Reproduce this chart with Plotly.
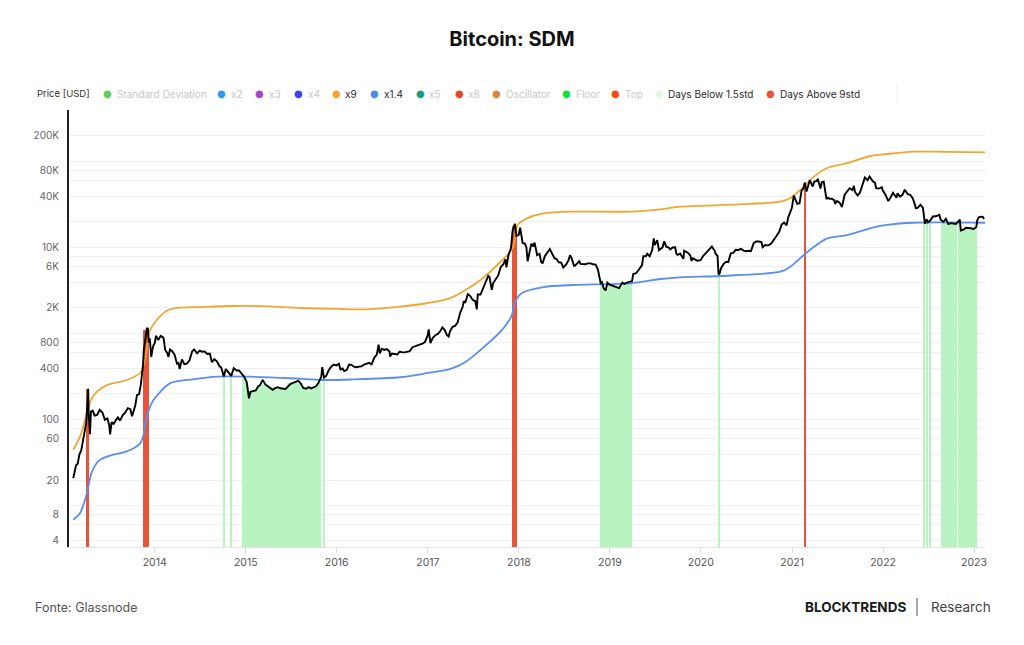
import plotly.graph_objects as go
import pandas as pd

# ---------------- data ----------------
price_dates = [
    "2013-02-08", "2013-02-12", "2013-02-19", "2013-02-26", "2013-03-05", "2013-03-12", "2013-03-19", "2013-03-26",
    "2013-04-01", "2013-04-05", "2013-04-09", "2013-04-11", "2013-04-13", "2013-04-16", "2013-04-20", "2013-04-27",
    "2013-05-05", "2013-05-15", "2013-05-25", "2013-06-05", "2013-06-15", "2013-06-25", "2013-07-02", "2013-07-06",
    "2013-07-12", "2013-07-20", "2013-07-28", "2013-08-06", "2013-08-15", "2013-08-25", "2013-09-05", "2013-09-15",
    "2013-09-25", "2013-10-02", "2013-10-08", "2013-10-15", "2013-10-22", "2013-10-30", "2013-11-06", "2013-11-11",
    "2013-11-15", "2013-11-18", "2013-11-22", "2013-11-26", "2013-11-30", "2013-12-04", "2013-12-08", "2013-12-12",
    "2013-12-18", "2013-12-22", "2013-12-27",
    "2014-01-01", "2014-01-06", "2014-01-15", "2014-01-25", "2014-02-05", "2014-02-12", "2014-02-20", "2014-02-25",
    "2014-03-03", "2014-03-12", "2014-03-22", "2014-03-31", "2014-04-06", "2014-04-11", "2014-04-20", "2014-04-30",
    "2014-05-10", "2014-05-20", "2014-05-31", "2014-06-08", "2014-06-20", "2014-06-30", "2014-07-10", "2014-07-20",
    "2014-07-31", "2014-08-10", "2014-08-18", "2014-08-28", "2014-09-08", "2014-09-18", "2014-09-25", "2014-10-05",
    "2014-10-13", "2014-10-25", "2014-11-04", "2014-11-14", "2014-11-25", "2014-12-05", "2014-12-15", "2014-12-25",
    "2015-01-05", "2015-01-14", "2015-01-20", "2015-01-31", "2015-02-10", "2015-02-20", "2015-02-28", "2015-03-10",
    "2015-03-20", "2015-03-31", "2015-04-10", "2015-04-20", "2015-04-30", "2015-05-10", "2015-05-20", "2015-05-31",
    "2015-06-10", "2015-06-20", "2015-06-30", "2015-07-10", "2015-07-20", "2015-07-31", "2015-08-10", "2015-08-20",
    "2015-08-31", "2015-09-10", "2015-09-20", "2015-09-30", "2015-10-10", "2015-10-20", "2015-10-31", "2015-11-04",
    "2015-11-11", "2015-11-20", "2015-11-30", "2015-12-10", "2015-12-20", "2015-12-31",
    "2016-01-10", "2016-01-16", "2016-01-25", "2016-01-31", "2016-02-10", "2016-02-20", "2016-02-29", "2016-03-10",
    "2016-03-20", "2016-03-31", "2016-04-10", "2016-04-20", "2016-04-30", "2016-05-10", "2016-05-20", "2016-05-31",
    "2016-06-10", "2016-06-17", "2016-06-22", "2016-06-30", "2016-07-10", "2016-07-20", "2016-07-31", "2016-08-02",
    "2016-08-10", "2016-08-20", "2016-08-31", "2016-09-10", "2016-09-20", "2016-09-30", "2016-10-10", "2016-10-20",
    "2016-10-31", "2016-11-10", "2016-11-20", "2016-11-30", "2016-12-10", "2016-12-20", "2016-12-31",
    "2017-01-04", "2017-01-11", "2017-01-20", "2017-01-31", "2017-02-10", "2017-02-20", "2017-02-28", "2017-03-10",
    "2017-03-18", "2017-03-25", "2017-03-31", "2017-04-10", "2017-04-20", "2017-04-30", "2017-05-10", "2017-05-20",
    "2017-05-25", "2017-05-31", "2017-06-10", "2017-06-20", "2017-06-30", "2017-07-10", "2017-07-16", "2017-07-20",
    "2017-07-31", "2017-08-10", "2017-08-20", "2017-08-31", "2017-09-05", "2017-09-14", "2017-09-20", "2017-09-30",
    "2017-10-10", "2017-10-20", "2017-10-31", "2017-11-08", "2017-11-12", "2017-11-20", "2017-11-30", "2017-12-07",
    "2017-12-16", "2017-12-22", "2017-12-31",
    "2018-01-06", "2018-01-16", "2018-01-25", "2018-01-31", "2018-02-05", "2018-02-10", "2018-02-20", "2018-02-28",
    "2018-03-05", "2018-03-15", "2018-03-25", "2018-03-31", "2018-04-06", "2018-04-15", "2018-04-25", "2018-04-30",
    "2018-05-05", "2018-05-15", "2018-05-25", "2018-05-31", "2018-06-10", "2018-06-20", "2018-06-28", "2018-07-10",
    "2018-07-20", "2018-07-25", "2018-07-31", "2018-08-10", "2018-08-14", "2018-08-25", "2018-08-31", "2018-09-05",
    "2018-09-15", "2018-09-25", "2018-10-05", "2018-10-15", "2018-10-25", "2018-11-05", "2018-11-14", "2018-11-20",
    "2018-11-25", "2018-11-30", "2018-12-07", "2018-12-15", "2018-12-22", "2018-12-31",
    "2019-01-10", "2019-01-20", "2019-01-31", "2019-02-07", "2019-02-20", "2019-02-28", "2019-03-10", "2019-03-20",
    "2019-03-31", "2019-04-05", "2019-04-15", "2019-04-25", "2019-05-10", "2019-05-15", "2019-05-25", "2019-05-31",
    "2019-06-10", "2019-06-20", "2019-06-26", "2019-06-30", "2019-07-10", "2019-07-17", "2019-07-25", "2019-07-31",
    "2019-08-07", "2019-08-15", "2019-08-25", "2019-08-31", "2019-09-10", "2019-09-20", "2019-09-25", "2019-09-30",
    "2019-10-10", "2019-10-23", "2019-10-26", "2019-10-31", "2019-11-10", "2019-11-20", "2019-11-25", "2019-11-30",
    "2019-12-10", "2019-12-18", "2019-12-31",
    "2020-01-10", "2020-01-20", "2020-01-31", "2020-02-10", "2020-02-14", "2020-02-25", "2020-02-29", "2020-03-08",
    "2020-03-12", "2020-03-16", "2020-03-22", "2020-03-31", "2020-04-10", "2020-04-20", "2020-04-30", "2020-05-10",
    "2020-05-20", "2020-05-31", "2020-06-10", "2020-06-20", "2020-06-30", "2020-07-10", "2020-07-20", "2020-07-31",
    "2020-08-10", "2020-08-20", "2020-08-31", "2020-09-05", "2020-09-15", "2020-09-25", "2020-09-30", "2020-10-10",
    "2020-10-21", "2020-10-31", "2020-11-10", "2020-11-20", "2020-11-30", "2020-12-10", "2020-12-17", "2020-12-27",
    "2020-12-31",
    "2021-01-08", "2021-01-15", "2021-01-22", "2021-01-31", "2021-02-08", "2021-02-15", "2021-02-21", "2021-02-28",
    "2021-03-10", "2021-03-13", "2021-03-25", "2021-03-31", "2021-04-10", "2021-04-14", "2021-04-25", "2021-04-30",
    "2021-05-08", "2021-05-12", "2021-05-19", "2021-05-25", "2021-05-31", "2021-06-10", "2021-06-20", "2021-06-22",
    "2021-06-30", "2021-07-10", "2021-07-20", "2021-07-31", "2021-08-10", "2021-08-20", "2021-08-31", "2021-09-06",
    "2021-09-10", "2021-09-21", "2021-09-30", "2021-10-10", "2021-10-20", "2021-10-31", "2021-11-08", "2021-11-20",
    "2021-11-30", "2021-12-04", "2021-12-15", "2021-12-27", "2021-12-31",
    "2022-01-10", "2022-01-22", "2022-01-31", "2022-02-10", "2022-02-24", "2022-02-28", "2022-03-10", "2022-03-20",
    "2022-03-29", "2022-04-10", "2022-04-20", "2022-04-30", "2022-05-10", "2022-05-12", "2022-05-20", "2022-05-31",
    "2022-06-10", "2022-06-14", "2022-06-18", "2022-06-25", "2022-06-30", "2022-07-10", "2022-07-20", "2022-07-31",
    "2022-08-10", "2022-08-15", "2022-08-20", "2022-08-31", "2022-09-10", "2022-09-20", "2022-09-30", "2022-10-10",
    "2022-10-20", "2022-10-31", "2022-11-05", "2022-11-09", "2022-11-20", "2022-11-30", "2022-12-10", "2022-12-20",
    "2022-12-31",
    "2023-01-10", "2023-01-14", "2023-01-20", "2023-01-31", "2023-02-05", "2023-02-10",
]
price_usd = [
    21, 24.5, 29.5, 31, 40, 44, 58, 78,
    93, 142, 230, 120, 95, 68, 125, 128,
    112, 114, 131, 122, 100, 104, 88, 68,
    94, 90, 98, 107, 98, 113, 122, 137,
    133, 110, 126, 148, 195, 198, 255, 340,
    430, 650, 780, 930, 1135, 1180, 790, 890,
    540, 640, 740,
    780, 950, 850, 950, 905, 650, 600, 540,
    660, 630, 570, 450, 460, 390, 505, 445,
    450, 490, 625, 660, 595, 640, 620, 625,
    585, 590, 470, 510, 475, 420, 405, 320,
    390, 355, 325, 400, 375, 375, 345, 320,
    275, 178, 212, 218, 220, 245, 255, 292,
    260, 245, 235, 224, 235, 240, 233, 230,
    229, 245, 263, 270, 278, 285, 265, 235,
    230, 240, 232, 237, 246, 270, 315, 410,
    310, 325, 378, 415, 440, 430,
    450, 385, 395, 370, 380, 440, 437, 415,
    410, 416, 420, 440, 450, 460, 442, 530,
    575, 750, 595, 670, 650, 665, 625, 545,
    590, 580, 575, 623, 610, 610, 618, 630,
    700, 715, 730, 745, 770, 800, 960,
    1130, 780, 895, 965, 1000, 1080, 1190, 1100,
    970, 930, 1080, 1210, 1240, 1350, 1750, 2050,
    2400, 2300, 2900, 2750, 2480, 2400, 1930, 2870,
    2870, 3420, 4100, 4740, 4600, 3250, 3900, 4340,
    4780, 6000, 6450, 7400, 5950, 8200, 9900, 16000,
    19100, 13800, 14100,
    17200, 11400, 11200, 10200, 7000, 8100, 11200, 10400,
    11500, 8250, 8500, 6900, 6600, 8000, 8900, 9250,
    9700, 8500, 7500, 7500, 6800, 6750, 5900, 6400,
    7300, 8200, 7700, 6200, 6200, 6700, 7000, 6500,
    6500, 6450, 6600, 6600, 6450, 6400, 5600, 4500,
    3900, 4000, 3400, 3200, 3950, 3740,
    3650, 3550, 3450, 3400, 3950, 3820, 3950, 4050,
    4100, 5000, 5050, 5450, 6300, 8000, 8000, 8550,
    8000, 9500, 12900, 10800, 12300, 9400, 9850, 10100,
    11900, 10300, 10100, 9600, 10100, 10170, 8500, 8300,
    8580, 7450, 9250, 9150, 8800, 8100, 7050, 7550,
    7250, 7100, 7200,
    8050, 8650, 9350, 9850, 10350, 9300, 8550, 8050,
    4900, 5000, 5800, 6420, 6870, 6850, 8650, 8750,
    9500, 9450, 9750, 9300, 9140, 9250, 9160, 11350,
    11900, 11850, 11650, 10150, 10800, 10700, 10780, 11300,
    12800, 13800, 15300, 18650, 19700, 18250, 22800, 26300,
    29000,
    40600, 36800, 32500, 33100, 46200, 48700, 57500, 45200,
    55900, 61200, 51700, 58900, 60000, 63500, 49000, 57800,
    58800, 49200, 37000, 38400, 37300, 37300, 35700, 32500,
    35000, 33800, 29800, 41500, 45600, 49300, 47100, 52700,
    45000, 40600, 43800, 54700, 65900, 61300, 67500, 59700,
    57000, 49400, 48900, 50700, 46300,
    41800, 35000, 38500, 43600, 38300, 43200, 39400, 41300,
    47400, 42200, 41400, 37700, 31000, 29000, 29200, 31800,
    29100, 22200, 19000, 21500, 19900, 20900, 23200, 23300,
    23900, 24200, 21200, 20100, 21800, 18900, 19400, 19100,
    19000, 20500, 21300, 15900, 16300, 17100, 17100, 16900,
    16550,
    17450, 20900, 22700, 23100, 23000, 21700,
]

x9_dates = [
    "2013-02-08", "2013-03-07", "2013-04-04", "2013-04-17", "2013-05-14", "2013-06-23", "2013-09-11", "2013-11-03",
    "2013-11-23", "2013-12-13", "2014-01-09", "2014-02-16", "2014-04-01", "2014-07-01", "2014-11-10", "2015-03-01",
    "2015-08-07", "2016-01-01", "2016-04-30", "2016-09-12", "2017-01-01", "2017-04-01", "2017-06-01", "2017-07-31",
    "2017-10-19", "2017-12-07", "2017-12-27", "2018-02-05", "2018-04-09", "2018-08-07", "2019-03-25", "2019-07-24",
    "2019-10-10", "2020-06-01", "2020-11-15", "2020-12-25", "2021-02-17", "2021-03-30", "2021-05-22", "2021-08-10",
    "2021-11-11", "2022-01-17", "2022-05-05", "2022-09-01", "2023-02-14",
]
x9_values = [
    45, 64, 120, 163, 213, 254, 291, 351,
    497, 1100, 1450, 1845, 2000, 2050, 2110, 2100,
    2000, 1950, 1930, 2070, 2285, 2610, 3235, 4240,
    6850, 10000, 18500, 22200, 25200, 26400, 26400, 28100,
    30100, 32000, 34400, 38000, 51400, 67300, 84900, 96400,
    117000, 123500, 131300, 131000, 129000,
]

x14_dates = [
    "2013-02-08", "2013-03-07", "2013-04-04", "2013-04-22", "2013-05-24", "2013-07-12", "2013-09-11", "2013-11-03",
    "2013-11-15", "2013-12-04", "2013-12-27", "2014-03-03", "2014-06-03", "2014-09-08", "2015-01-13", "2015-07-01",
    "2015-11-08", "2016-03-01", "2016-09-12", "2017-01-01", "2017-04-01", "2017-06-01", "2017-07-31", "2017-10-19",
    "2017-12-01", "2017-12-20", "2018-01-13", "2018-04-09", "2018-08-07", "2019-03-25", "2019-07-24", "2019-10-10",
    "2020-03-22", "2020-11-15", "2020-12-25", "2021-02-17", "2021-03-30", "2021-05-22", "2021-08-10", "2021-11-24",
    "2022-01-17", "2022-05-05", "2023-02-14",
]
x14_values = [
    6.9, 8.2, 14, 24, 34, 39, 43, 53,
    64, 119, 170, 266, 296, 318, 318, 305,
    291, 295, 313, 351, 391, 471, 650, 1060,
    1585, 2480, 2990, 3500, 3700, 3870, 4345, 4550,
    4710, 5280, 6040, 8260, 10300, 12900, 14100, 17300,
    18500, 19600, 19600,
]

# Days Below 1.5std (periods, with the price level reached by the bars)
below_start = [
    "2014-10-05", "2014-11-02",
    "2014-12-19", "2015-01-06", "2015-01-13", "2015-02-15", "2015-03-25", "2015-06-18", "2015-08-15", "2015-10-12",
    "2015-11-11",
    "2018-11-22", "2018-12-04", "2018-12-18", "2019-01-08", "2019-02-18",
    "2020-03-12",
    "2022-06-14", "2022-06-25", "2022-07-05", "2022-08-23", "2022-09-18", "2022-11-02", "2022-11-08",
]
below_end = [
    "2014-10-07", "2014-11-04",
    "2015-01-06", "2015-01-13", "2015-02-15", "2015-03-25", "2015-06-18", "2015-08-15", "2015-10-12", "2015-10-28",
    "2015-11-14",
    "2018-12-04", "2018-12-18", "2019-01-08", "2019-02-18", "2019-04-01",
    "2020-03-13",
    "2022-06-18", "2022-06-29", "2022-07-09", "2022-09-18", "2022-10-23", "2022-11-08", "2023-01-11",
]
below_level = [
    330, 330,
    310, 250, 215, 255, 232, 265, 233, 270,
    320,
    4000, 3400, 3800, 3500, 3950,
    4900,
    20500, 20500, 20500, 20200, 19200, 20000, 16800,
]

# Days Above 9std
above_start = ["2013-04-02", "2013-11-16", "2017-12-03", "2021-02-21"]
above_end = ["2013-04-13", "2013-12-08", "2017-12-24", "2021-02-21"]
above_level = [230, 1100, 17800, 56000]

year_ticks = ["2014-01-01", "2015-01-01", "2016-01-01", "2017-01-01", "2018-01-01",
              "2019-01-01", "2020-01-01", "2021-01-01", "2022-01-01", "2023-01-01"]
year_labels = ["2014", "2015", "2016", "2017", "2018", "2019", "2020", "2021", "2022", "2023"]

y_tickvals = [4, 8, 20, 60, 100, 400, 800, 2000, 6000, 10000, 40000, 80000, 200000]
y_ticktext = ["4", "8", "20", "60", "100", "400", "800", "2K", "6K", "10K", "40K", "80K", "200K"]
y_minor_grid = [6, 10, 40, 80, 200, 600, 1000, 4000, 8000, 20000, 60000, 100000]

legend_names = ["Standard Deviation", "x2", "x3", "x4", "x9", "x1.4", "x5", "x8",
                "Oscillator", "Floor", "Top", "Days Below 1.5std", "Days Above 9std"]
legend_colors = ["#63c963", "#2f9cf2", "#a244d4", "#3d3df2", "#f0a732", "#4f88ee", "#1a9c82", "#e8461e",
                 "#d4883c", "#12e33a", "#ff4a12", "#e3f7e3", "#e8543a"]
legend_active = [False, False, False, False, True, True, False, False,
                 False, False, False, True, True]

# ---------------- colours / layout constants ----------------
C_PRICE = "#000000"
C_X9 = "#f0a732"
C_X14 = "#5a8ef0"
C_BELOW = "#b9f3c1"
C_ABOVE = "#e8543a"

W, H = 1024, 645
L, R, T, B = 69, 985, 110, 547


def spans(starts, ends, min_days):
    s = pd.to_datetime(pd.Series(starts))
    e = pd.to_datetime(pd.Series(ends))
    days = ((e - s).dt.days + 1).clip(lower=min_days)
    centers = s + (e - s) / 2
    widths = (days * 86400000).tolist()
    return centers, widths


fig = go.Figure()

bx, bw = spans(below_start, below_end, 3)
fig.add_trace(go.Bar(x=bx, y=below_level, width=bw, marker=dict(color=C_BELOW, line=dict(width=0)),
                     name="Days Below 1.5std", showlegend=False, hoverinfo="skip"))

ax_, aw = spans(above_start, above_end, 4)
fig.add_trace(go.Bar(x=ax_, y=above_level, width=aw, marker=dict(color=C_ABOVE, line=dict(width=0)),
                     name="Days Above 9std", showlegend=False, hoverinfo="skip"))

fig.add_trace(go.Scatter(x=pd.to_datetime(x9_dates), y=x9_values, mode="lines", name="x9",
                         line=dict(color=C_X9, width=1.8, shape="spline", smoothing=0.8), showlegend=False))
fig.add_trace(go.Scatter(x=pd.to_datetime(x14_dates), y=x14_values, mode="lines", name="x1.4",
                         line=dict(color=C_X14, width=1.8, shape="spline", smoothing=0.8), showlegend=False))
fig.add_trace(go.Scatter(x=pd.to_datetime(price_dates), y=price_usd, mode="lines", name="Price [USD]",
                         line=dict(color=C_PRICE, width=1.9), showlegend=False))


def px_x(p):
    return (p - L) / (R - L)


def px_y(p):
    return (B - p) / (B - T)


ann = []
# legend row
ann.append(dict(text="Price [USD]", x=px_x(35), y=px_y(93.5), xref="paper", yref="paper",
                xanchor="left", yanchor="middle", showarrow=False,
                font=dict(family="Inter", size=9.5, color="#333333")))
legend_marker_x = [107.3, 221.7, 259.3, 298.3, 336.0, 374.3, 420.0, 459.0, 496.7, 566.7, 615.7, 659.0, 770.7]
for name, col, act, mx in zip(legend_names, legend_colors, legend_active, legend_marker_x):
    ann.append(dict(text="●", x=px_x(mx), y=px_y(93.5), xref="paper", yref="paper",
                    xanchor="center", yanchor="middle", showarrow=False,
                    font=dict(family="DejaVu Sans", size=10, color=col)))
    ann.append(dict(text=name, x=px_x(mx + 7.3), y=px_y(93.5), xref="paper", yref="paper",
                    xanchor="left", yanchor="middle", showarrow=False,
                    font=dict(family="Inter", size=10, color="#2b2b2b" if act else "#c8c8c8")))
# footer
ann.append(dict(text="Fonte: Glassnode", x=px_x(33), y=px_y(607), xref="paper", yref="paper",
                xanchor="left", yanchor="middle", showarrow=False,
                font=dict(family="Inter", size=12.5, color="#555555")))
ann.append(dict(text="<b>BLOCKTRENDS</b>", x=px_x(803), y=px_y(607), xref="paper", yref="paper",
                xanchor="left", yanchor="middle", showarrow=False,
                font=dict(family="Inter", size=13.5, color="#1a1a1a")))
ann.append(dict(text="Research", x=px_x(929), y=px_y(607), xref="paper", yref="paper",
                xanchor="left", yanchor="middle", showarrow=False,
                font=dict(family="Inter", size=13.5, color="#444444")))

shapes = [
    dict(type="line", xref="paper", yref="paper", x0=px_x(917), x1=px_x(917), y0=px_y(598), y1=px_y(616),
         line=dict(color="#555555", width=1)),
    dict(type="line", xref="paper", yref="paper", x0=px_x(897), x1=px_x(897), y0=px_y(84), y1=px_y(103),
         line=dict(color="#eeeeee", width=1)),
]

fig.update_layout(
    width=W, height=H,
    margin=dict(l=L, r=W - R, t=T, b=H - B, pad=0),
    paper_bgcolor="white", plot_bgcolor="white",
    barmode="overlay", bargap=0,
    showlegend=False,
    title=dict(text="<b>Bitcoin: SDM</b>", x=0.5, xref="container", xanchor="center",
               y=1 - 39 / H, yref="container", yanchor="middle",
               font=dict(family="Inter", size=20, color="#111111")),
    annotations=ann,
    shapes=shapes,
    font=dict(family="Inter", color="#555555"),
)

fig.update_xaxes(
    type="date", range=["2013-01-22", "2023-02-14"],
    tickmode="array", tickvals=year_ticks, ticktext=year_labels,
    showgrid=False, zeroline=False,
    showline=True, linecolor="#e4e4e4", linewidth=1,
    ticks="outside", ticklen=5, tickcolor="#dddddd",
    tickfont=dict(family="Inter", size=10.5, color="#555555"),
)

fig.update_yaxes(
    type="log", range=[0.522, 5.603],
    tickmode="array", tickvals=y_tickvals, ticktext=y_ticktext,
    showgrid=True, gridcolor="#efefef", gridwidth=1,
    minor=dict(tickmode="array", tickvals=y_minor_grid, showgrid=True, gridcolor="#efefef", gridwidth=1, ticks=""),
    zeroline=False,
    showline=True, linecolor="#222222", linewidth=2,
    ticks="", ticklabelstandoff=6,
    tickfont=dict(family="Inter", size=10, color="#666666"),
)

fig.write_html("out.html")
